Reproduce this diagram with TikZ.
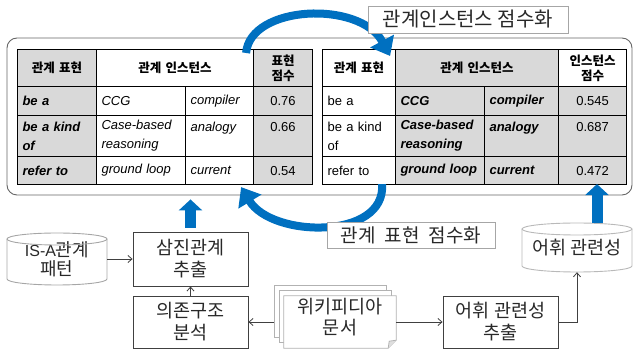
\documentclass[tikz,border=0pt]{standalone}
\usepackage{fontspec}
\setmainfont{Liberation Sans}
\newfontfamily\kr{Noto Sans CJK KR}
\usetikzlibrary{arrows.meta,calc}
\definecolor{cellgray}{RGB}{217,217,217}
\definecolor{arcblue}{RGB}{0,112,192}
\definecolor{boxline}{RGB}{64,64,64}
\definecolor{ktext}{RGB}{40,40,40}
\begin{document}
\begin{tikzpicture}[x=1pt,y=-1pt,
 cell/.style={draw=black, line width=1.1pt, anchor=north west, inner xsep=5pt, inner ysep=0pt, font=\fontsize{13}{19}\selectfont},
 gcell/.style={cell, fill=cellgray},
 khead/.style={font=\kr\bfseries\fontsize{12.5}{15}\selectfont},
 bi/.style={font=\fontsize{13}{19}\selectfont\bfseries\itshape},
 it/.style={font=\fontsize{13}{19}\selectfont\itshape},
 kbox/.style={draw=boxline, line width=0.9pt, fill=white, align=center, inner sep=0pt, font=\kr\fontsize{18.5}{22}\selectfont, text=ktext},
 klabel/.style={draw=gray!70, line width=0.9pt, fill=white, inner sep=0pt, font=\kr\fontsize{19}{22}\selectfont, text=ktext},
 ktxt/.style={align=center, inner sep=0pt, font=\kr\fontsize{18.5}{21}\selectfont, text=ktext},
 cyl/.style={draw=gray!70, line width=0.9pt},
 sheet/.style={draw=gray!60, fill=white, line width=0.8pt},
 arr/.style={draw=boxline, line width=0.8pt, -{Straight Barb[length=4pt,width=7pt]}},
 bluearc/.style={draw=arcblue, line width=8pt, -{Triangle[length=17pt,width=26pt]}},
 bluebar/.style={draw=arcblue, line width=11pt, -{Triangle[length=11pt,width=23pt]}},
]
\useasboundingbox (0,0) rectangle (633,352);

% outer frame
\node[draw=gray!80!black, line width=0.9pt, rounded corners=10pt, minimum width=625, minimum height=157, inner sep=0pt] (frame) at (319.5,116.5) {};

% ---------- left table ----------
\node[gcell, khead, minimum width=79, minimum height=37, text width=69, align=center] (l00) at (17,49) {관계 표현};
\node[cell, khead, minimum width=157, minimum height=37, text width=147, align=center] (l01) at (96,49) {관계 인스턴스};
\node[gcell, khead, minimum width=59, minimum height=37, text width=49, align=center] (l03) at (253,49) {표현\\점수};

\node[gcell, bi, minimum width=79, minimum height=29, text width=69, align=left] (l10) at (17,86) {be a};
\node[cell, it, minimum width=89, minimum height=29, text width=79, align=left] (l11) at (96,86) {CCG};
\node[cell, it, minimum width=68, minimum height=29, text width=58, align=left] (l12) at (185,86) {compiler};
\node[gcell, minimum width=59, minimum height=29, text width=49, align=center] (l13) at (253,86) {0.76};

\node[gcell, bi, minimum width=79, minimum height=41, text width=69, align=left] (l20) at (17,115) {be a kind\\of};
\node[cell, it, minimum width=89, minimum height=41, text width=79, align=left] (l21) at (96,115) {Case-based\\reasoning};
\node[cell, it, minimum width=68, minimum height=41, text width=58, align=left] (l22) at (185,115) {analogy\\\mbox{}};
\node[gcell, minimum width=59, minimum height=41, text width=49, align=center] (l23) at (253,115) {0.66\\\mbox{}};

\node[gcell, bi, minimum width=79, minimum height=28, text width=69, align=left] (l30) at (17,156) {refer to};
\node[cell, it, minimum width=89, minimum height=28, text width=79, align=left] (l31) at (96,156) {ground loop};
\node[cell, it, minimum width=68, minimum height=28, text width=58, align=left] (l32) at (185,156) {current};
\node[gcell, minimum width=59, minimum height=28, text width=49, align=center] (l33) at (253,156) {0.54};

% ---------- right table ----------
\node[cell, khead, minimum width=73, minimum height=37, text width=63, align=center] (r00) at (322,49) {관계 표현};
\node[gcell, khead, minimum width=163, minimum height=37, text width=153, align=center] (r01) at (395,49) {관계 인스턴스};
\node[cell, khead, minimum width=68, minimum height=37, text width=58, align=center] (r03) at (558,49) {인스턴스\\점수};

\node[cell, minimum width=73, minimum height=29, text width=63, align=left] (r10) at (322,86) {be a};
\node[gcell, bi, minimum width=89, minimum height=29, text width=79, align=left] (r11) at (395,86) {CCG};
\node[gcell, bi, minimum width=74, minimum height=29, text width=64, align=left] (r12) at (484,86) {compiler};
\node[gcell, minimum width=68, minimum height=29, text width=58, align=center] (r13) at (558,86) {0.545};

\node[cell, minimum width=73, minimum height=41, text width=63, align=left] (r20) at (322,115) {be a kind\\of};
\node[gcell, bi, minimum width=89, minimum height=41, text width=79, align=left] (r21) at (395,115) {Case-based\\reasoning};
\node[gcell, bi, minimum width=74, minimum height=41, text width=64, align=left] (r22) at (484,115) {analogy\\\mbox{}};
\node[gcell, minimum width=68, minimum height=41, text width=58, align=center] (r23) at (558,115) {0.687\\\mbox{}};

\node[cell, minimum width=73, minimum height=28, text width=63, align=left] (r30) at (322,156) {refer to};
\node[gcell, bi, minimum width=89, minimum height=28, text width=79, align=left] (r31) at (395,156) {ground loop};
\node[gcell, bi, minimum width=74, minimum height=28, text width=64, align=left] (r32) at (484,156) {current};
\node[gcell, minimum width=68, minimum height=28, text width=58, align=center] (r33) at (558,156) {0.472};

% ---------- blue circular arrows ----------
\coordinate (topstart) at ($(l01.north east)+(-8,4)$);
\coordinate (topend) at ($(r00.north east)+(-6,7)$);
\draw[bluearc] (topstart) .. controls (250,5) and (360,0) .. (topend);
\coordinate (botstart) at ($(r30.south east)+(-14,-1)$);
\coordinate (botend) at ($(l32.south east)+(-13,2)$);
\draw[bluearc] (botstart) .. controls (386,240) and (272,238) .. (botend);

\node[klabel, minimum width=200, minimum height=27, font=\kr\fontsize{20}{22}\selectfont] (lab1) at (468,19.5) {관계인스턴스 점수화};
\node[klabel, minimum width=168, minimum height=26] (lab2) at (411,235) {관계\hspace{5pt} 표현\hspace{5pt} 점수화};

% ---------- lower part ----------
% IS-A cylinder
\node[ktxt, minimum width=100, minimum height=52, font=\kr\fontsize{18}{19}\selectfont] (isa) at (57,259) {{\fontspec{Liberation Sans}\fontsize{16}{19}\selectfont IS-A}관계\\패턴};
\draw[cyl] (7,239) -- (7,279) arc[start angle=180, end angle=0, x radius=50, y radius=6] -- (107,239);
\draw[cyl] (57,239) ellipse[x radius=50, y radius=6];

\node[kbox, minimum width=115, minimum height=54] (sam) at (190.5,259) {삼진관계\\추출};
\node[kbox, minimum width=115, minimum height=52] (dep) at (190.5,322) {의존구조\\분석};

% document stack
\draw[sheet] (274,285) rectangle (386,337);
\draw[sheet] (279,290) rectangle (391,342);
\node[minimum width=112, minimum height=52, inner sep=0pt] (wiki) at (340,322) {};
\draw[sheet] (wiki.north west) -- (wiki.north east) -- ($(wiki.south east)+(0,-8)$) -- ($(wiki.south east)+(-8,0)$) -- (wiki.south west) -- cycle;
\draw[sheet, fill=gray!25] ($(wiki.south east)+(0,-8)$) -- ($(wiki.south east)+(-7,-7)$) -- ($(wiki.south east)+(-8,0)$);
\node[ktxt] (wikitext) at ([yshift=5pt]wiki.center) {위키피디아\\문서};

\node[kbox, minimum width=115, minimum height=52] (lexext) at (500.5,322) {어휘 관련성\\추출};

% lexical relatedness cylinder
\node[ktxt, minimum width=110, minimum height=49] (lexcyl) at (577,247.5) {어휘 관련성};
\draw[cyl, draw=gray!55] (522,229) -- (522,266) arc[start angle=180, end angle=0, x radius=55, y radius=6] -- (632,229);
\draw[cyl, draw=gray!55] (577,229) ellipse[x radius=55, y radius=6];

% thin connectors
\draw[arr] (isa.east) -- (sam.west);
\draw[arr] (dep.north) -- (sam.south);
\draw[arr] ([xshift=-10pt]wiki.west) -- (dep.east);
\draw[arr] (wiki.east) -- (lexext.west);
\draw[arr] (lexext.east) -| (lexcyl.south);

% blue up arrows
\draw[bluebar] ($(sam.north)+(0,-4)$) -- ($(sam.north |- frame.south)+(0,4)$);
\draw[bluebar] ($(lexcyl.north)+(20,0)$) -- ($(lexcyl.north |- r33.south)+(20,-1)$);
\end{tikzpicture}
\end{document}
